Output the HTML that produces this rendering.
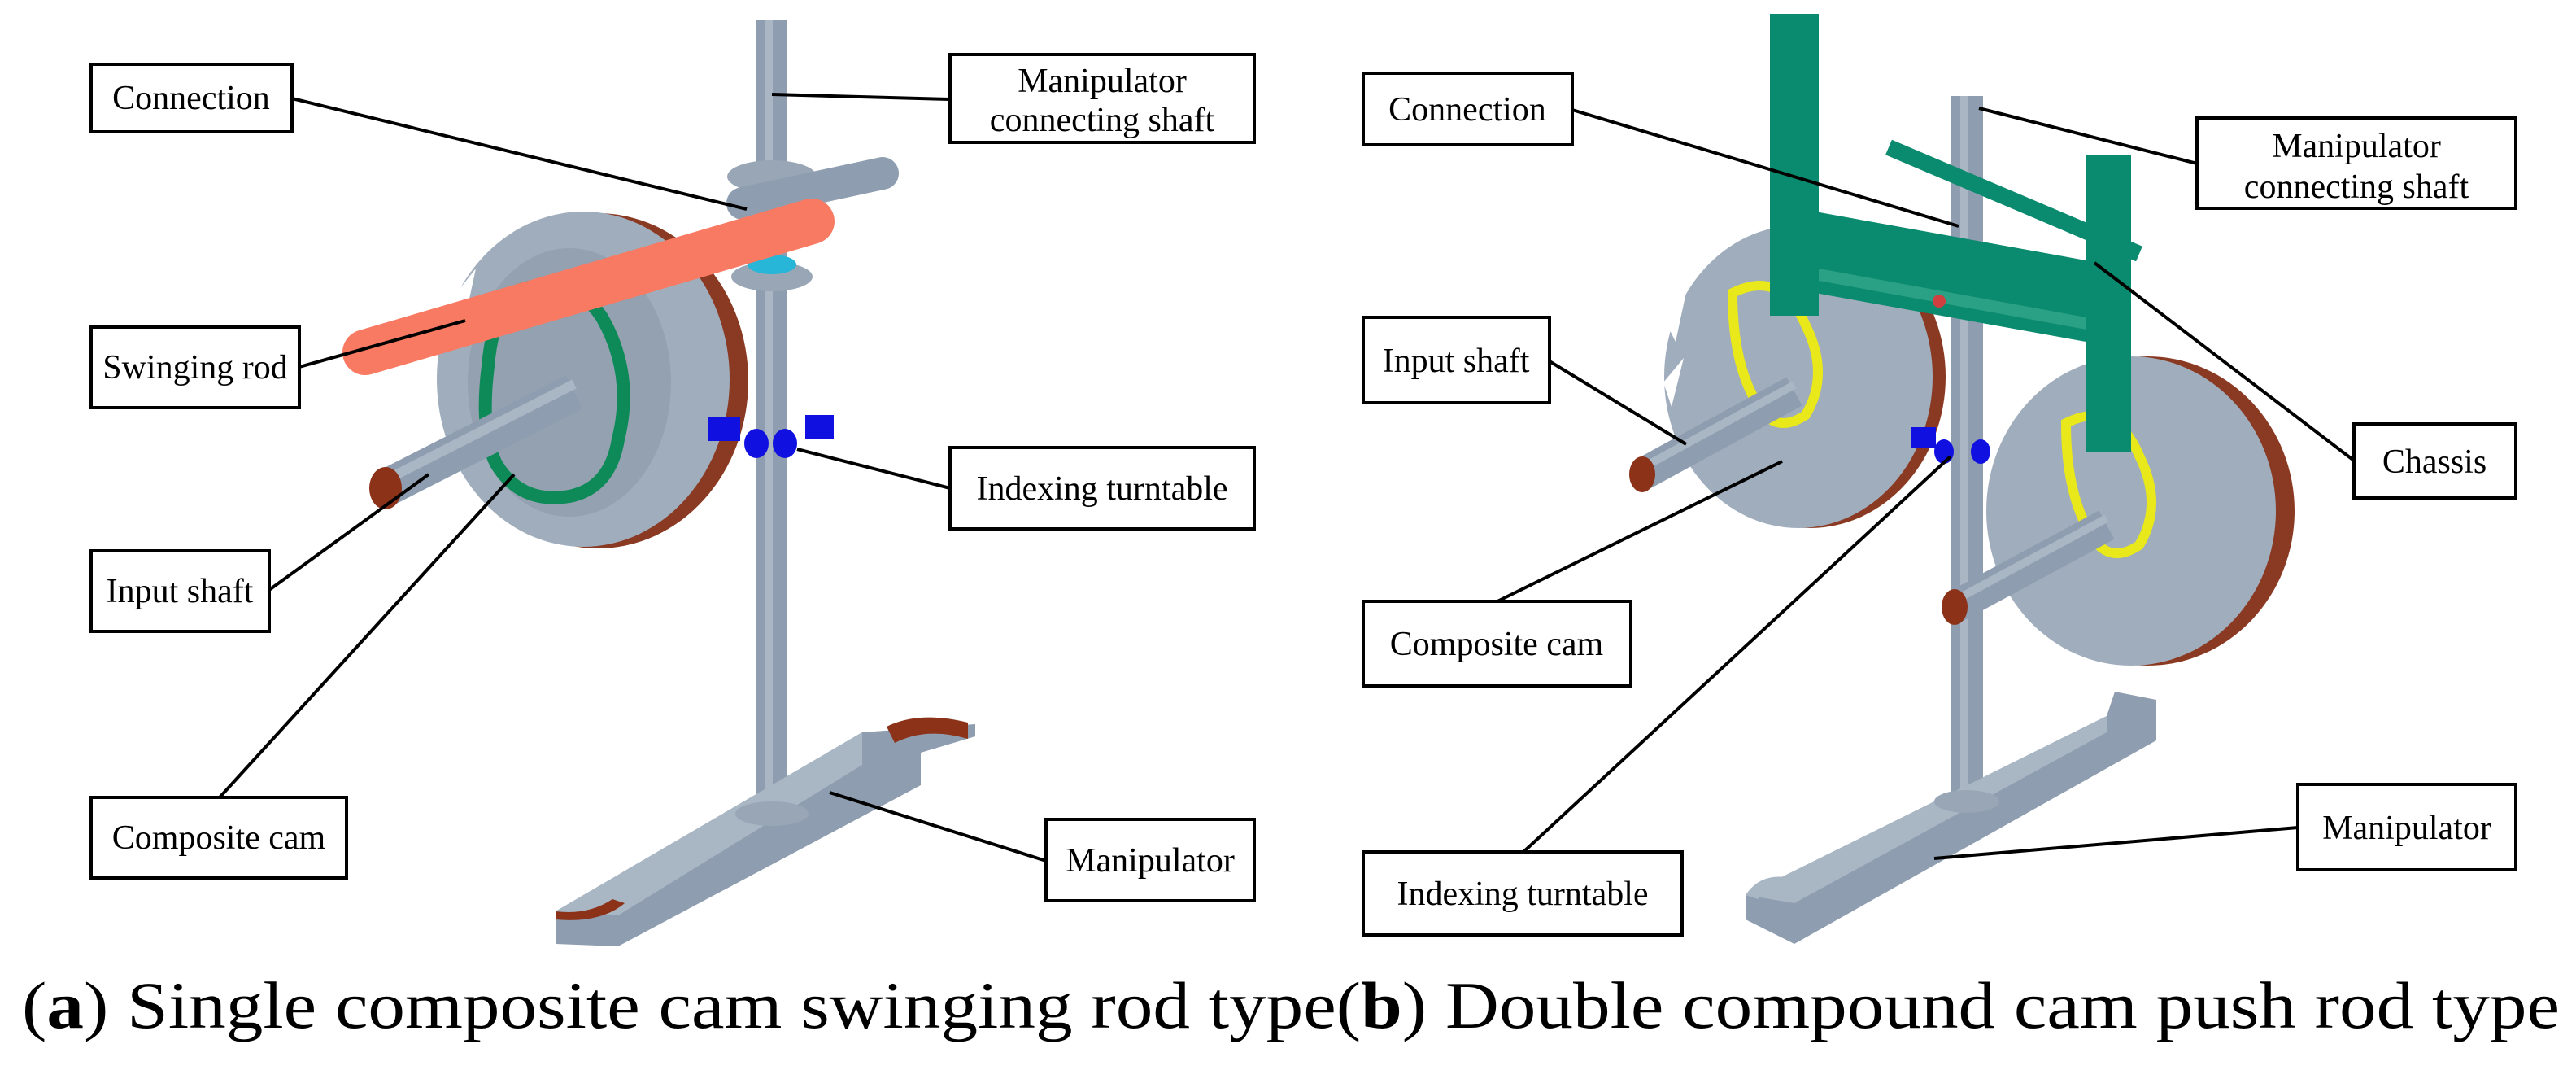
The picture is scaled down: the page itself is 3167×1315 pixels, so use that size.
<!DOCTYPE html>
<html><head><meta charset="utf-8"><style>
html,body{margin:0;padding:0;background:#fff;}
svg{display:block;}
text{font-family:"Liberation Serif",serif;}
</style></head><body>
<svg width="3167" height="1315" viewBox="0 0 3167 1315" xmlns="http://www.w3.org/2000/svg">
<!-- LEFT MECHANISM -->
<g>
<ellipse cx="735" cy="468" rx="185" ry="206" fill="#8a3a22"/>
<ellipse cx="717" cy="466" rx="180" ry="206" fill="#a0adbc"/>
<polygon points="545,380 585,330 570,400" fill="#fff"/>
<polygon points="530,560 575,600 540,610" fill="#fff"/>
<ellipse cx="700" cy="470" rx="125" ry="165" fill="#93a1b1"/>
<path d="M630 360 q70 -30 110 30 q40 70 20 150 q-10 60 -60 70 q-60 10 -90 -40 q-20 -40 -10 -120 q5 -60 30 -90z" fill="none" stroke="#0d8a57" stroke-width="16"/>
<rect x="929" y="25" width="38" height="978" fill="#8e9db0"/>
<rect x="940" y="25" width="10" height="978" fill="#aab6c4"/>
<ellipse cx="949" cy="217" rx="55" ry="20" fill="#98a6b6"/>
<ellipse cx="949" cy="340" rx="50" ry="18" fill="#98a6b6"/>
<ellipse cx="949" cy="325" rx="30" ry="12" fill="#27b6d8"/>
<line x1="913" y1="250" x2="1085" y2="213" stroke="#8e9db0" stroke-width="40" stroke-linecap="round"/>
<line x1="449" y1="433" x2="998" y2="272" stroke="#f97a62" stroke-width="56" stroke-linecap="round"/>
<line x1="474" y1="600" x2="706" y2="482" stroke="#8e9db0" stroke-width="46"/>
<line x1="474" y1="590" x2="706" y2="472" stroke="#a9b6c4" stroke-width="12"/>
<ellipse cx="474" cy="600" rx="20" ry="26" fill="#8b3219"/>
<rect x="870" y="512" width="40" height="30" fill="#1010e0"/>
<rect x="990" y="510" width="35" height="30" fill="#1010e0"/>
<ellipse cx="930" cy="545" rx="15" ry="18" fill="#1010e0"/>
<ellipse cx="965" cy="545" rx="15" ry="18" fill="#1010e0"/>
<polygon points="683,1120 683,1160 760,1163 1132,965 1132,925 1199,905 1199,890 1060,900" fill="#8e9db0"/>
<polygon points="683,1120 760,1125 1060,940 1060,900" fill="#a9b6c4"/>
<ellipse cx="949" cy="1000" rx="45" ry="15" fill="#98a6b6"/>
<path d="M1090 893 q40 -20 100 -5 l0 20 q-50 -15 -90 5 z" fill="#8b3219"/>
<path d="M683 1120 q40 5 70 -15 l15 5 q-30 25 -85 20z" fill="#8b3219"/>
</g>
<!-- RIGHT MECHANISM -->
<g>
<ellipse cx="2225" cy="463" rx="167" ry="186" fill="#8a3a22"/>
<ellipse cx="2211" cy="463" rx="165" ry="186" fill="#a0adbc"/>
<polygon points="2050,400 2075,350 2060,420" fill="#fff"/>
<polygon points="2045,470 2070,440 2055,500" fill="#fff"/>
<path d="M2130 360 q60 -30 90 40 q30 60 0 110 q-30 20 -50 0 q-40 -50 -40 -150z" fill="none" stroke="#e8e81a" stroke-width="12"/>
<ellipse cx="2640" cy="628" rx="181" ry="190" fill="#8a3a22"/>
<ellipse cx="2620" cy="628" rx="178" ry="190" fill="#a0adbc"/>
<path d="M2540 520 q60 -30 90 40 q30 60 0 110 q-30 20 -50 0 q-40 -50 -40 -150z" fill="none" stroke="#e8e81a" stroke-width="12"/>
<rect x="2398" y="118" width="40" height="868" fill="#8e9db0"/>
<rect x="2410" y="118" width="10" height="868" fill="#aab6c4"/>
<line x1="2322" y1="181" x2="2630" y2="312" stroke="#0a8a6e" stroke-width="20"/>
<rect x="2176" y="17" width="60" height="371" fill="#0a8a6e"/>
<rect x="2565" y="190" width="55" height="366" fill="#0a8a6e"/>
<polygon points="2176,250 2620,330 2620,430 2176,350" fill="#0a8a6e"/>
<polygon points="2236,330 2565,390 2565,405 2236,345" fill="#2aa084"/>
<circle cx="2384" cy="370" r="8" fill="#d04040"/>
<line x1="2019" y1="583" x2="2206" y2="481" stroke="#8e9db0" stroke-width="40"/>
<line x1="2019" y1="575" x2="2206" y2="473" stroke="#a9b6c4" stroke-width="10"/>
<ellipse cx="2019" cy="583" rx="16" ry="22" fill="#8b3219"/>
<line x1="2403" y1="746" x2="2590" y2="645" stroke="#8e9db0" stroke-width="40"/>
<line x1="2403" y1="738" x2="2590" y2="637" stroke="#a9b6c4" stroke-width="10"/>
<ellipse cx="2403" cy="746" rx="16" ry="22" fill="#8b3219"/>
<rect x="2350" y="525" width="30" height="25" fill="#1010e0"/>
<ellipse cx="2390" cy="555" rx="12" ry="15" fill="#1010e0"/>
<ellipse cx="2435" cy="555" rx="12" ry="15" fill="#1010e0"/>
<polygon points="2146,1100 2146,1130 2206,1160 2651,910 2651,860 2600,850 2590,880" fill="#8e9db0"/>
<polygon points="2146,1100 2206,1110 2590,900 2590,880" fill="#a9b6c4"/>
<path d="M2146 1100 q20 -30 60 -20 l0 15 q-30 -10 -45 10z" fill="#a9b6c4"/>
<ellipse cx="2418" cy="985" rx="40" ry="14" fill="#98a6b6"/>
</g>
<!-- LEADERS -->
<g stroke="#000" stroke-width="4" fill="none">
<line x1="359" y1="121" x2="918" y2="257"/>
<line x1="1168" y1="122" x2="949" y2="116"/>
<line x1="368" y1="451" x2="572" y2="394"/>
<line x1="331" y1="725" x2="527" y2="583"/>
<line x1="270" y1="980" x2="632" y2="583"/>
<line x1="1168" y1="600" x2="980" y2="552"/>
<line x1="1286" y1="1058" x2="1020" y2="974"/>
<line x1="1933" y1="135" x2="2408" y2="278"/>
<line x1="2701" y1="201" x2="2433" y2="133"/>
<line x1="1905" y1="444" x2="2073" y2="546"/>
<line x1="2894" y1="566" x2="2575" y2="323"/>
<line x1="1841" y1="739" x2="2191" y2="567"/>
<line x1="1873" y1="1047" x2="2398" y2="561"/>
<line x1="2825" y1="1017" x2="2378" y2="1055"/>
</g>
<!-- BOXES -->
<g stroke="#000" stroke-width="4" fill="#fff">
<rect x="112" y="79" width="247" height="83"/>
<rect x="1168" y="67" width="374" height="108"/>
<rect x="112" y="402" width="256" height="99"/>
<rect x="112" y="677" width="219" height="99"/>
<rect x="112" y="980" width="314" height="99"/>
<rect x="1168" y="550" width="374" height="100"/>
<rect x="1286" y="1007" width="256" height="100"/>
<rect x="1676" y="90" width="257" height="88"/>
<rect x="2701" y="145" width="392" height="111"/>
<rect x="1676" y="390" width="229" height="105"/>
<rect x="2894" y="521" width="199" height="91"/>
<rect x="1676" y="739" width="329" height="104"/>
<rect x="1676" y="1047" width="392" height="102"/>
<rect x="2825" y="964" width="268" height="105"/>
</g>
<g font-size="42" fill="#000" text-anchor="middle">
<text x="235" y="134">Connection</text>
<text x="1355" y="113">Manipulator</text>
<text x="1355" y="161">connecting shaft</text>
<text x="240" y="465">Swinging rod</text>
<text x="221" y="740">Input shaft</text>
<text x="269" y="1043">Composite cam</text>
<text x="1355" y="614">Indexing turntable</text>
<text x="1414" y="1071">Manipulator</text>
<text x="1804" y="148">Connection</text>
<text x="2897" y="193">Manipulator</text>
<text x="2897" y="243">connecting shaft</text>
<text x="1790" y="457">Input shaft</text>
<text x="2993" y="581">Chassis</text>
<text x="1840" y="805">Composite cam</text>
<text x="1872" y="1112">Indexing turntable</text>
<text x="2959" y="1031">Manipulator</text>
</g>
<text x="27" y="1263" font-size="82" textLength="3120" lengthAdjust="spacingAndGlyphs">(<tspan font-weight="bold">a</tspan>) Single composite cam swinging rod type(<tspan font-weight="bold">b</tspan>) Double compound cam push rod type</text>
</svg>
</body></html>
